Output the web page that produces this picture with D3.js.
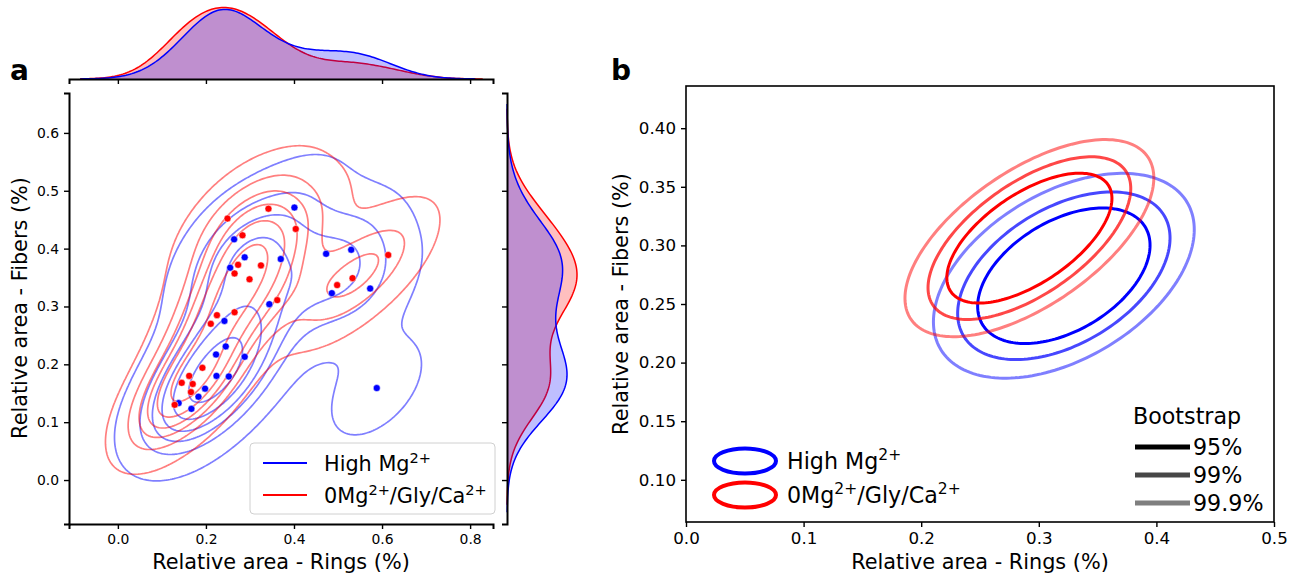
<!DOCTYPE html>
<html>
<head>
<meta charset="utf-8">
<script src="https://cdn.jsdelivr.net/npm/d3@7"></script>
<style>
  body { margin: 0; background: #fff; }
  svg { font-family: "DejaVu Sans", sans-serif; }
</style>
</head>
<body>
<svg id="chart" width="1298" height="579"></svg>
<script>
// ---- data ----
const groups = ["High Mg", "0Mg/Gly/Ca"];

// panel a: individual measurements (relative area of rings vs fibers)
const highMgRings  = [0.264, 0.288, 0.255, 0.370, 0.344, 0.401, 0.473, 0.530, 0.486, 0.573, 0.242,
                      0.245, 0.223, 0.288, 0.224, 0.252, 0.198, 0.183, 0.138, 0.167, 0.588];
const highMgFibers = [0.416, 0.385, 0.367, 0.382, 0.304, 0.471, 0.391, 0.398, 0.323, 0.331, 0.275,
                      0.231, 0.217, 0.213, 0.180, 0.179, 0.158, 0.144, 0.133, 0.123, 0.159];
const zeroMgRings  = [0.342, 0.249, 0.283, 0.273, 0.265, 0.325, 0.299, 0.362, 0.404, 0.614, 0.533,
                      0.498, 0.265, 0.225, 0.211, 0.192, 0.162, 0.145, 0.170, 0.166, 0.129];
const zeroMgFibers = [0.469, 0.452, 0.423, 0.372, 0.357, 0.371, 0.347, 0.311, 0.434, 0.389, 0.349,
                      0.337, 0.290, 0.285, 0.270, 0.194, 0.180, 0.168, 0.166, 0.152, 0.130];

const ringTicksA  = [0.0, 0.2, 0.4, 0.6, 0.8];
const fiberTicksA = [0.0, 0.1, 0.2, 0.3, 0.4, 0.5, 0.6];

// panel b: bootstrap confidence ellipses of the mean
const bootLevels   = ["95%", "99%", "99.9%"];
const centerRings  = [0.3213, 0.2920];
const centerFibers = [0.2741, 0.3062];
const halfRingsHigh  = [0.0733, 0.0903, 0.1109];
const halfFibersHigh = [0.0578, 0.0715, 0.0874];
const halfRingsZero  = [0.0702, 0.0862, 0.1058];
const halfFibersZero = [0.0554, 0.0694, 0.0841];
const tilt = [0.45, 0.61];

const ringTicksB  = [0.0, 0.1, 0.2, 0.3, 0.4, 0.5];
const fiberTicksB = [0.10, 0.15, 0.20, 0.25, 0.30, 0.35, 0.40];

// ---- styles ----
const colors = ["#0000ff", "#ff0000"];
const levelAlpha = [1, 0.72, 0.5];
const contourLevels = 7, contourThresh = 0.05;

const svg = d3.select("#chart");

// ---- kde helpers (scipy gaussian_kde, Scott's rule) ----
function kde2d(xs, ys) {
  const n = xs.length, G = 200;
  const mx = d3.mean(xs), my = d3.mean(ys);
  const f2 = Math.pow(n, -1 / 3);
  const a = d3.variance(xs) * f2, d = d3.variance(ys) * f2;
  const b = d3.sum(xs, (x, i) => (x - mx) * (ys[i] - my)) / (n - 1) * f2;
  const det = a * d - b * b;
  const norm = 1 / (2 * Math.PI * Math.sqrt(det) * n);
  const x0 = d3.min(xs) - 3 * Math.sqrt(a), x1 = d3.max(xs) + 3 * Math.sqrt(a);
  const y0 = d3.min(ys) - 3 * Math.sqrt(d), y1 = d3.max(ys) + 3 * Math.sqrt(d);
  const dx = (x1 - x0) / (G - 1), dy = (y1 - y0) / (G - 1);
  const values = new Float64Array(G * G);
  for (let j = 0; j < G; j++) {
    const y = y0 + j * dy;
    for (let i = 0; i < G; i++) {
      const x = x0 + i * dx;
      let s = 0;
      for (let k = 0; k < n; k++) {
        const u = x - xs[k], v = y - ys[k];
        s += Math.exp(-0.5 * (d * u * u - 2 * b * u * v + a * v * v) / det);
      }
      values[j * G + i] = s * norm * 0.5;
    }
  }
  return { values, G, x0, y0, dx, dy };
}

function kde1d(vals) {
  const n = vals.length, bw = Math.pow(n, -0.2) * d3.deviation(vals);
  const lo = d3.min(vals) - 3 * bw, hi = d3.max(vals) + 3 * bw;
  return d3.range(200).map(i => {
    const t = lo + i * (hi - lo) / 199;
    const s = d3.sum(vals, v => Math.exp(-0.5 * ((t - v) / bw) ** 2));
    return [t, s / (n * bw * Math.sqrt(2 * Math.PI)) * 0.5];
  });
}

// ================= panel a =================
const xA = d3.scaleLinear().domain([-0.111, 0.852]).range([69, 493]);
const yA = d3.scaleLinear().domain([-0.076, 0.669]).range([524, 93]);

const ringsBy  = [highMgRings, zeroMgRings];
const fibersBy = [highMgFibers, zeroMgFibers];

const dens = [0, 1].map(g => kde2d(ringsBy[g], fibersBy[g]));
const sorted = dens.flatMap(d => Array.from(d.values)).sort((p, q) => q - p);
const total = d3.sum(sorted);
let acc = 0;
const cum = sorted.map(v => (acc += v) / total);
const props = d3.range(contourLevels - 1).map(i => contourThresh + i * (1 - contourThresh) / (contourLevels - 1));
const thresholds = props.map(p => sorted[Math.min(d3.bisectLeft(cum, 1 - p), sorted.length - 1)]);

const gA = svg.append("g");
[0, 1].forEach(g => {
  const d = dens[g];
  const proj = d3.geoTransform({
    point(u, v) { this.stream.point(xA(d.x0 + (u - 0.5) * d.dx), yA(d.y0 + (v - 0.5) * d.dy)); }
  });
  const contours = d3.contours().size([d.G, d.G]).thresholds(thresholds)(d.values);
  gA.append("g").selectAll("path").data(contours).join("path")
    .attr("d", d3.geoPath(proj))
    .attr("fill", "none")
    .attr("stroke", colors[g])
    .attr("stroke-opacity", 0.5)
    .attr("stroke-width", 1.7);
});

[0, 1].forEach(g => {
  gA.append("g").selectAll("circle").data(ringsBy[g]).join("circle")
    .attr("cx", v => xA(v))
    .attr("cy", (v, i) => yA(fibersBy[g][i]))
    .attr("r", 3.5)
    .attr("fill", colors[g])
    .attr("stroke", "#fff")
    .attr("stroke-width", 0.5);
});

function styleAxis(sel, fs) {
  sel.select(".domain").attr("stroke", "#000").attr("stroke-width", 2);
  sel.selectAll(".tick line").attr("stroke", "#000").attr("stroke-width", 1.4);
  sel.selectAll(".tick text").attr("fill", "#000").attr("font-size", fs);
  sel.attr("font-family", null);
}

gA.append("g").attr("transform", "translate(0,524)")
  .call(d3.axisBottom(xA).tickValues(ringTicksA).tickFormat(d3.format(".1f")).tickSizeOuter(0).tickSize(5).tickPadding(5))
  .call(s => styleAxis(s, 13.9));
gA.append("g").attr("transform", "translate(69,0)")
  .call(d3.axisLeft(yA).tickValues(fiberTicksA).tickFormat(d3.format(".1f")).tickSizeOuter(0).tickSize(5).tickPadding(5))
  .call(s => styleAxis(s, 13.9));

// marginal densities
const margX = [0, 1].map(g => kde1d(ringsBy[g]));
const margY = [0, 1].map(g => kde1d(fibersBy[g]));
const topY = d3.scaleLinear().domain([0, d3.max(margX.flat(), p => p[1])]).range([79, 7.5]);
const rightX = d3.scaleLinear().domain([0, d3.max(margY.flat(), p => p[1])]).range([507, 577]);

[1, 0].forEach(g => {
  gA.append("path").datum(margX[g])
    .attr("d", d3.area().x(p => xA(p[0])).y0(topY(0)).y1(p => topY(p[1])))
    .attr("fill", colors[g]).attr("fill-opacity", 0.25);
  gA.append("path").datum(margX[g])
    .attr("d", d3.line().x(p => xA(p[0])).y(p => topY(p[1])))
    .attr("fill", "none").attr("stroke", colors[g]).attr("stroke-width", 1.5);
  gA.append("path").datum(margY[g])
    .attr("d", d3.area().y(p => yA(p[0])).x0(rightX(0)).x1(p => rightX(p[1])))
    .attr("fill", colors[g]).attr("fill-opacity", 0.25);
  gA.append("path").datum(margY[g])
    .attr("d", d3.line().y(p => yA(p[0])).x(p => rightX(p[1])))
    .attr("fill", "none").attr("stroke", colors[g]).attr("stroke-width", 1.5);
});

gA.append("g").attr("transform", "translate(0,79)")
  .call(d3.axisBottom(xA).tickValues(ringTicksA).tickFormat("").tickSizeOuter(0).tickSize(5))
  .call(s => styleAxis(s, 13.9));
gA.append("g").attr("transform", "translate(507,0)")
  .call(d3.axisLeft(yA).tickValues(fiberTicksA).tickFormat("").tickSizeOuter(0).tickSize(5))
  .call(s => styleAxis(s, 13.9));

// legend a
function groupLabel(sel, g) {
  if (g === 0) {
    sel.append("tspan").text("High Mg");
    sel.append("tspan").attr("baseline-shift", "super").attr("font-size", "70%").text("2+");
  } else {
    sel.append("tspan").text("0Mg");
    sel.append("tspan").attr("baseline-shift", "super").attr("font-size", "70%").text("2+");
    sel.append("tspan").text("/Gly/Ca");
    sel.append("tspan").attr("baseline-shift", "super").attr("font-size", "70%").text("2+");
  }
}

const legA = gA.append("g");
legA.append("rect").attr("x", 250).attr("y", 443).attr("width", 245).attr("height", 71).attr("rx", 4)
  .attr("fill", "#fff").attr("fill-opacity", 0.8).attr("stroke", "#d0d0d0");
groups.forEach((name, g) => {
  const cy = 463 + g * 32;
  legA.append("line").attr("x1", 263).attr("x2", 307).attr("y1", cy).attr("y2", cy)
    .attr("stroke", colors[g]).attr("stroke-width", 2);
  legA.append("text").attr("x", 324).attr("y", cy + 7.5).attr("font-size", 20.8).call(s => groupLabel(s, g));
});

svg.append("text").attr("x", 281).attr("y", 569).attr("text-anchor", "middle").attr("font-size", 20.8)
  .text("Relative area - Rings (%)");
svg.append("text").attr("transform", "translate(20,308) rotate(-90)").attr("dy", "0.35em")
  .attr("text-anchor", "middle").attr("font-size", 20.8).text("Relative area - Fibers (%)");
svg.append("text").attr("x", 10).attr("y", 80).attr("font-size", 28).attr("font-weight", "bold").text("a");

// ================= panel b =================
const xB = d3.scaleLinear().domain([0, 0.5]).range([686, 1274]);
const yB = d3.scaleLinear().domain([0.064, 0.436]).range([522, 86]);
const gB = svg.append("g");

const halfRingsBy  = [halfRingsHigh, halfRingsZero];
const halfFibersBy = [halfFibersHigh, halfFibersZero];
const angles = d3.range(0, 361, 2).map(a => a * Math.PI / 180);

[0, 1].forEach(g => {
  bootLevels.forEach((lvl, k) => {
    const hx = halfRingsBy[g][k], hy = halfFibersBy[g][k], r = tilt[g];
    gB.append("path").datum(angles)
      .attr("d", d3.line().curve(d3.curveLinearClosed)
        .x(t => xB(centerRings[g] + hx * Math.cos(t)))
        .y(t => yB(centerFibers[g] + hy * (r * Math.cos(t) + Math.sqrt(1 - r * r) * Math.sin(t)))))
      .attr("fill", "none")
      .attr("stroke", colors[g])
      .attr("stroke-opacity", levelAlpha[k])
      .attr("stroke-width", 3);
  });
});

gB.append("rect").attr("x", 686).attr("y", 86).attr("width", 588).attr("height", 436)
  .attr("fill", "none").attr("stroke", "#000").attr("stroke-width", 1.6);
gB.append("g").attr("transform", "translate(0,522)")
  .call(d3.axisBottom(xB).tickValues(ringTicksB).tickFormat(d3.format(".1f")).tickSizeOuter(0).tickSize(5).tickPadding(5))
  .call(s => styleAxis(s, 16.7)).select(".domain").remove();
gB.append("g").attr("transform", "translate(686,0)")
  .call(d3.axisLeft(yB).tickValues(fiberTicksB).tickFormat(d3.format(".2f")).tickSizeOuter(0).tickSize(5).tickPadding(5))
  .call(s => styleAxis(s, 16.7)).select(".domain").remove();

// legend b: groups
groups.forEach((name, g) => {
  const cy = 461 + g * 34;
  gB.append("ellipse").attr("cx", 745).attr("cy", cy).attr("rx", 31).attr("ry", 12.5)
    .attr("fill", "none").attr("stroke", colors[g]).attr("stroke-width", 4);
  gB.append("text").attr("x", 787).attr("y", cy + 8).attr("font-size", 22.2).call(s => groupLabel(s, g));
});

// legend b: bootstrap levels
gB.append("text").attr("x", 1133).attr("y", 424).attr("font-size", 22.2).text("Bootstrap");
bootLevels.forEach((lvl, k) => {
  const cy = 447 + k * 28;
  gB.append("line").attr("x1", 1135).attr("x2", 1190).attr("y1", cy).attr("y2", cy)
    .attr("stroke", "#000").attr("stroke-opacity", levelAlpha[k]).attr("stroke-width", 5);
  gB.append("text").attr("x", 1193).attr("y", cy + 8).attr("font-size", 22.2).text(lvl);
});

svg.append("text").attr("x", 980).attr("y", 569).attr("text-anchor", "middle").attr("font-size", 20.8)
  .text("Relative area - Rings (%)");
svg.append("text").attr("transform", "translate(621,304) rotate(-90)").attr("dy", "0.35em")
  .attr("text-anchor", "middle").attr("font-size", 20.8).text("Relative area - Fibers (%)");
svg.append("text").attr("x", 611).attr("y", 80).attr("font-size", 28).attr("font-weight", "bold").text("b");
</script>
</body>
</html>
